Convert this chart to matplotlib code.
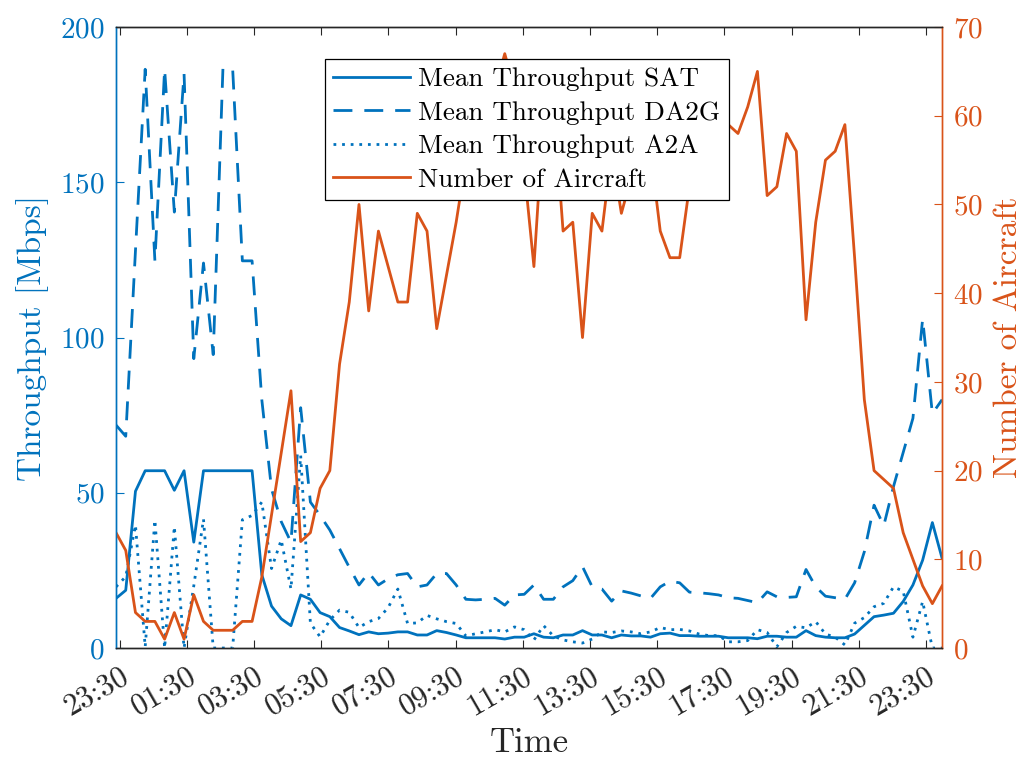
import numpy as np
import matplotlib.pyplot as plt

plt.rcParams['font.family'] = ['cmr10', 'DejaVu Serif']
plt.rcParams['mathtext.fontset'] = 'cm'
plt.rcParams['axes.formatter.use_mathtext'] = True

# sampling of the day (hours, starting just before 23:30)
t_start = 23.396
t_step = 0.2892

sat = [16.0, 18.6, 50.5, 57.1, 57.1, 57.1, 50.8, 57.1, 34.1, 57.1,
       57.1, 57.1, 57.1, 57.1, 57.1, 23.6, 13.5, 9.4, 7.2, 17.1,
       15.7, 11.4, 10.1, 6.6, 5.5, 4.3, 5.2, 4.6, 4.8, 5.2,
       5.2, 4.2, 4.2, 5.6, 5.0, 4.2, 3.3, 3.3, 3.3, 3.3,
       2.9, 3.5, 3.5, 4.6, 3.5, 3.3, 4.2, 4.2, 5.6, 4.2,
       4.2, 3.3, 4.2, 3.9, 3.9, 3.5, 4.6, 4.8, 4.0, 4.0,
       3.8, 3.8, 3.8, 3.3, 3.3, 3.3, 3.0, 3.8, 3.8, 3.5,
       3.5, 5.6, 4.0, 3.5, 3.3, 3.3, 4.5, 7.3, 10.1, 10.6,
       11.2, 15.0, 20.3, 28.3, 40.4, 28.9]

da2g = [71.8, 68.2, 128.0, 186.4, 124.7, 186.4, 140.4, 185.0, 93.2, 124.0,
        94.5, 186.6, 186.6, 124.7, 124.7, 80.0, 51.2, 40.7, 34.1, 77.4,
        47.0, 42.7, 38.0, 32.0, 26.0, 20.3, 24.3, 20.3, 22.3, 23.6,
        24.0, 19.7, 20.3, 24.0, 24.0, 20.3, 15.7, 15.5, 15.7, 16.0,
        13.8, 17.1, 17.3, 20.3, 15.7, 15.7, 19.7, 21.7, 26.2, 19.7,
        19.0, 15.1, 18.4, 17.7, 16.8, 16.0, 19.7, 21.5, 21.0, 18.0,
        17.8, 17.5, 17.1, 16.2, 16.0, 15.3, 14.6, 18.1, 16.5, 16.3,
        16.5, 25.3, 19.7, 16.7, 16.2, 15.7, 21.0, 31.0, 46.0, 39.4,
        52.0, 63.0, 74.0, 106.0, 75.5, 80.0]

a2a = [19.7, 23.0, 39.6, 0.4, 41.2, 0.0, 39.1, 0.0, 20.0, 41.5,
       0.0, 0.0, 0.0, 41.3, 42.7, 47.0, 25.6, 34.8, 19.0, 62.0,
       8.0, 3.6, 9.0, 12.2, 11.5, 6.6, 8.5, 9.5, 13.0, 19.0,
       7.9, 8.1, 10.5, 9.4, 8.5, 7.9, 3.9, 4.6, 5.2, 5.9,
       5.2, 6.8, 5.9, 2.6, 7.2, 3.9, 2.6, 2.0, 1.6, 2.9,
       5.2, 5.0, 5.5, 5.2, 4.6, 5.2, 6.6, 5.9, 6.0, 5.5,
       4.5, 4.0, 4.0, 2.0, 2.0, 2.4, 5.9, 5.0, 0.4, 5.0,
       7.0, 6.5, 8.5, 4.5, 3.5, 1.0, 8.0, 9.8, 13.3, 14.4,
       19.7, 18.3, 3.5, 15.0, 0.0, 0.0]

aircraft = [13, 11, 4, 3, 3, 1, 4, 1, 6, 3,
            2, 2, 2, 3, 3, 8, 15, 22, 29, 12,
            13, 18, 20, 32, 39, 50, 38, 47, 43, 39,
            39, 49, 47, 36, 42, 48, 55, 60, 62, 63,
            67, 63, 54, 43, 60, 62, 47, 48, 35, 49,
            47, 56, 49, 53, 58, 56, 47, 44, 44, 52,
            55, 57, 59, 59, 58, 61, 65, 51, 52, 58,
            56, 37, 48, 55, 56, 59, 44, 28, 20, 19,
            18, 13, 10, 7, 5, 7]

tick_hours = [23.5 + 2 * k for k in range(13)]
tick_labels = ["23:30", "01:30", "03:30", "05:30", "07:30", "09:30", "11:30",
               "13:30", "15:30", "17:30", "19:30", "21:30", "23:30"]

blue = "#0072BD"
orange = "#D95319"
dark = "#262626"

time = t_start + t_step * np.arange(len(aircraft))

fig = plt.figure(figsize=(10.25, 7.64), dpi=100)
ax = fig.add_axes([0.1132, 0.1518, 0.8059, 0.8128])

l1, = ax.plot(time, sat, color=blue, lw=2.0, ls='-')
l2, = ax.plot(time, da2g, color=blue, lw=2.0, ls=(0, (6.8, 4.3)))
l3, = ax.plot(time, a2a, color=blue, lw=2.0, ls=(0, (1.0, 2.1)))
ax.set_ylim(0, 200)
ax.set_yticks([0, 50, 100, 150, 200])
ax.set_xlim(time[0], time[-1])
ax.set_xticks(tick_hours)
ax.set_xticklabels(tick_labels, rotation=30, ha='right', rotation_mode='anchor')
ax.tick_params(axis='x', direction='in', top=True, length=6, colors=dark,
               labelsize=22, pad=10)
ax.tick_params(axis='y', direction='in', length=6, colors=blue, labelsize=21, pad=8)
ax.set_ylabel("Throughput [Mbps]", color=blue, fontsize=24, labelpad=8)
ax.set_xlabel("Time", color=dark, fontsize=25, labelpad=5)

ax2 = ax.twinx()
l4, = ax2.plot(time, aircraft, color=orange, lw=2.0)
ax2.set_ylim(0, 70)
ax2.set_yticks(range(0, 80, 10))
ax2.tick_params(axis='y', direction='in', length=6, colors=orange, labelsize=21, pad=8)
ax2.set_ylabel("Number of Aircraft", color=orange, fontsize=24, labelpad=8)

for a in (ax, ax2):
    a.spines['left'].set_color(blue)
    a.spines['right'].set_color(orange)
    a.spines['top'].set_color(dark)
    a.spines['bottom'].set_color(dark)
    for s in a.spines.values():
        s.set_linewidth(1.0)

leg = ax2.legend([l1, l2, l3, l4],
                 ["Mean Throughput SAT", "Mean Throughput DA2G",
                  "Mean Throughput A2A", "Number of Aircraft"],
                 loc='upper left', bbox_to_anchor=(0.253, 0.948),
                 fontsize=19.5, handlelength=2.85, handletextpad=0.3,
                 labelspacing=0.35, borderpad=0.3, borderaxespad=0,
                 fancybox=False, framealpha=1, edgecolor='black')
leg.get_frame().set_linewidth(0.9)

fig.savefig("out.png", dpi=100)
